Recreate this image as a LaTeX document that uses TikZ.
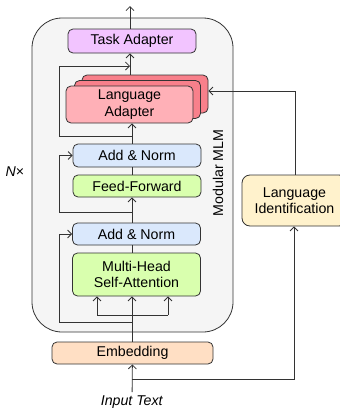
\documentclass[tikz,border=0pt]{standalone}
\usepackage{fontspec}
\setmainfont{Liberation Sans}
\usetikzlibrary{arrows.meta}
\definecolor{linegray}{HTML}{333333}
\definecolor{outerfill}{HTML}{F5F5F5}
\definecolor{taskfill}{HTML}{F2C4FF}
\definecolor{langfront}{HTML}{FFB0B7}
\definecolor{langback}{HTML}{F8808B}
\definecolor{normfill}{HTML}{DAE8FC}
\definecolor{greenfill}{HTML}{D9FFAE}
\definecolor{embedfill}{HTML}{FFDFC4}
\definecolor{idfill}{HTML}{FFF2CC}
\tikzset{
  block/.style={draw=linegray, line width=0.8pt, rounded corners=5pt, minimum width=128pt,
    align=center, inner sep=1pt, font=\fontsize{14.2}{16.5}\selectfont},
  conn/.style={draw=linegray, line width=0.8pt},
  arr/.style={conn, -{Straight Barb[length=4pt,width=8pt]}},
  lab/.style={font=\fontsize{14.2}{16.5}\selectfont},
}
\begin{document}
\begin{tikzpicture}[x=1pt,y=-1pt]
\useasboundingbox (0,0) rectangle (340,410);
% outer module
\node[draw=linegray, line width=0.8pt, fill=outerfill, rounded corners=30pt,
  minimum width=201pt, minimum height=314pt] (mlmbox) at (132.5,175) {};
\node[lab, rotate=90] (mlm) at (218,173) {Modular MLM};
\node[lab] (nx) at (15,172) {\textit{N}×};

% blocks
\node[block, fill=taskfill, minimum height=24pt] (task) at (132,41) {Task Adapter};
\node[block, fill=langback, minimum width=126pt, minimum height=38pt] (langC) at (145,94) {};
\node[block, fill=langback, minimum width=126pt, minimum height=38pt] (langB) at (137.5,99.5) {};
\node[block, fill=langfront, minimum width=127pt, minimum height=37pt] (lang) at (129.5,104.5) {Language\\Adapter};
\node[block, fill=normfill, minimum height=23pt] (addtop) at (137,155.5) {Add \& Norm};
\node[block, fill=greenfill, minimum height=22pt] (ff) at (137,186) {Feed-Forward};
\node[block, fill=normfill, minimum height=22pt] (addbot) at (136.5,234) {Add \& Norm};
\node[block, fill=greenfill, minimum height=43pt] (mhsa) at (136.5,274.5) {Multi-Head\\Self-Attention};
\node[block, fill=embedfill, minimum width=161pt, minimum height=22pt] (embed) at (132.5,353) {Embedding};
\node[block, fill=idfill, rounded corners=8pt, minimum width=105pt, minimum height=51pt] (langid) at (294.5,200.5) {Language\\Identification};
\node[lab] (input) at (132,402) {\textit{Input Text}};

% coordinates
\coordinate (split) at (132,315);
\coordinate (qin) at (97,315);
\coordinate (vin) at (168,315);
\coordinate (res1) at (132,322);
\coordinate (res1bend) at (59,322);
\coordinate (res2) at (132,212);
\coordinate (res2bend) at (59,212);
\coordinate (res3) at (132,136);
\coordinate (res3bend) at (59,136);
\coordinate (res3top) at (59,66);
\coordinate (join) at (130,66);
\coordinate (out) at (130,6);
\coordinate (idsplit) at (132,379);
\coordinate (idbend) at (294,379);
\coordinate (idtop) at (295,91);

% connectors
\draw[arr] (input) -- (embed);
\draw[arr] (embed.north -| split) -- (mhsa.south -| split);
\draw[conn] (qin) -- (vin);
\draw[arr] (qin) -- (qin |- mhsa.south);
\draw[arr] (vin) -- (vin |- mhsa.south);
\draw[arr] (res1) -- (res1bend) |- (addbot.west);
\draw[conn] (mhsa.north -| split) -- (addbot.south -| split);
\draw[arr] (addbot.north -| split) -- (ff.south -| split);
\draw[arr] (res2) -- (res2bend) |- (addtop.west);
\draw[conn] (ff.north -| split) -- (addtop.south -| split);
\draw[arr] (addtop.north -| split) -- (lang.south -| split);
\draw[arr] (res3) -- (res3bend) -- (res3top) -- (join);
\draw[arr] (langC.north -| join) -- (task.south -| join);
\draw[arr] (task.north -| join) -- (out);
\draw[arr] (idsplit) -- (idbend) -- (idbend |- langid.south);
\draw[arr] (langid.north -| idtop) -- (idtop) -- (idtop -| langC.east);
\end{tikzpicture}
\end{document}
